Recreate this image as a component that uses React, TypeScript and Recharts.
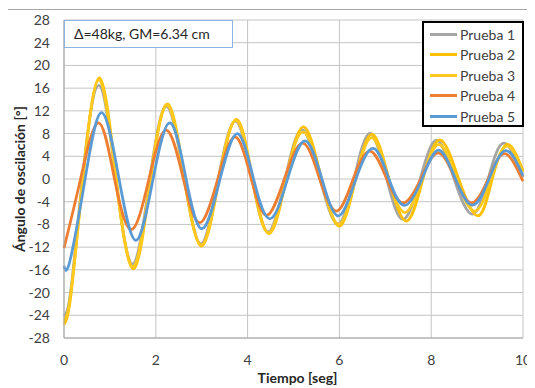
import { LineChart, Line, XAxis, YAxis, CartesianGrid } from 'recharts'

// [tiempo (s), ángulo (°)]: extremos y cruces por cero
const prueba1: [number, number][] = [
  [0, -24.2], [0.15, -19.5], [0.40, 0], [0.76, 16.5], [1.13, 0], [1.50, -15.0], [1.87, 0],
  [2.24, 12.8], [2.62, 0], [2.99, -11.4], [3.36, 0], [3.74, 10.2], [4.10, 0], [4.45, -9.3],
  [4.82, 0], [5.19, 8.7], [5.58, 0], [5.97, -7.9], [6.32, 0], [6.67, 8.1], [7.03, 0],
  [7.39, -7.1], [7.76, 0], [8.12, 6.85], [8.50, 0], [8.90, -6.2], [9.24, 0], [9.58, 6.3], [10, 0.3],
]
const prueba2: [number, number][] = [
  [0, -25.6], [0.15, -20.5], [0.41, 0], [0.77, 17.8], [1.14, 0], [1.52, -15.8], [1.89, 0],
  [2.26, 13.2], [2.63, 0], [3.0, -11.8], [3.38, 0], [3.76, 10.5], [4.11, 0], [4.47, -9.6],
  [4.84, 0], [5.22, 9.2], [5.61, 0], [6.0, -8.3], [6.35, 0], [6.71, 7.9], [7.08, 0],
  [7.46, -7.4], [7.82, 0], [8.19, 6.9], [8.60, 0], [9.02, -6.5], [9.33, 0], [9.65, 6.1], [10, 1.5],
]
const prueba3: [number, number][] = [
  [0, -25.0], [0.15, -20.0], [0.41, 0], [0.76, 17.4], [1.13, 0], [1.51, -15.4], [1.88, 0],
  [2.25, 13.0], [2.62, 0], [3.0, -11.6], [3.37, 0], [3.75, 10.3], [4.10, 0], [4.46, -9.5],
  [4.83, 0], [5.21, 8.3], [5.60, 0], [5.99, -8.0], [6.35, 0], [6.71, 7.3], [7.07, 0],
  [7.43, -5.9], [7.80, 0], [8.17, 6.1], [8.55, 0], [8.95, -5.65], [9.30, 0], [9.64, 5.8], [10, 1.2],
]
const prueba4: [number, number][] = [
  [0, -12.2], [0.36, 0], [0.75, 9.9], [1.10, 0], [1.47, -8.9], [1.85, 0], [2.23, 8.6],
  [2.60, 0], [2.96, -7.7], [3.35, 0], [3.73, 7.4], [4.08, 0], [4.42, -6.4], [4.80, 0],
  [5.20, 6.3], [5.57, 0], [5.94, -5.65], [6.30, 0], [6.67, 4.9], [7.03, 0], [7.39, -4.2],
  [7.77, 0], [8.15, 4.6], [8.52, 0], [8.88, -4.2], [9.24, 0], [9.60, 4.45], [10, -0.4],
]
const prueba5: [number, number][] = [
  [0, -15.3], [0.13, -14.4], [0.46, 0], [0.82, 11.7], [1.20, 0], [1.57, -10.8], [1.94, 0],
  [2.31, 9.9], [2.66, 0], [3.01, -8.75], [3.40, 0], [3.78, 8.0], [4.13, 0], [4.49, -7.0],
  [4.87, 0], [5.25, 6.7], [5.62, 0], [5.98, -6.5], [6.36, 0], [6.74, 5.4], [7.08, 0],
  [7.42, -4.65], [7.80, 0], [8.16, 5.1], [8.53, 0], [8.90, -4.6], [9.26, 0], [9.62, 5.0], [10, 0.6],
]

const xTicks = [0, 2, 4, 6, 8, 10]
const yTicks = [-28, -24, -20, -16, -12, -8, -4, 0, 4, 8, 12, 16, 20, 24, 28]

const series = [
  { name: 'Prueba 1', color: '#A5A5A5', points: prueba1 },
  { name: 'Prueba 2', color: '#FFC000', points: prueba2 },
  { name: 'Prueba 3', color: '#FFC81E', points: prueba3 },
  { name: 'Prueba 4', color: '#ED7D31', points: prueba4 },
  { name: 'Prueba 5', color: '#5B9BD5', points: prueba5 },
]

const font = 'Lato, "Open Sans", sans-serif'
const tickStyle = { fill: '#404040', fontSize: 14, fontFamily: font }

export default function App() {
  return (
    <div
      style={{
        position: 'relative',
        width: 527,
        height: 380,
        border: '1px solid #a6a6a6',
        marginLeft: -1,
        marginTop: 1,
        background: '#fff',
      }}
    >
      <LineChart width={527} height={380} margin={{ top: 10, right: 12, bottom: 0, left: 0 }}>
        <CartesianGrid stroke="#c4c4c4" />
        <XAxis
          type="number"
          dataKey="t"
          domain={[0, 10]}
          ticks={xTicks}
          height={52}
          tick={tickStyle}
          tickLine={false}
          tickMargin={11}
          axisLine={{ stroke: '#a6a6a6' }}
          label={{
            value: 'Tiempo [seg]',
            position: 'insideBottom',
            offset: 7,
            dx: 4,
            style: { fill: '#262626', fontSize: 14, fontWeight: 700, fontFamily: font },
          }}
        />
        <YAxis
          type="number"
          domain={[-28, 28]}
          ticks={yTicks}
          width={56}
          interval={0}
          tick={tickStyle}
          tickLine={false}
          tickMargin={8}
          axisLine={{ stroke: '#a6a6a6' }}
          label={{
            value: 'Ángulo de oscilación [°]',
            angle: -90,
            position: 'insideLeft',
            offset: 12,
            style: { textAnchor: 'middle', fill: '#262626', fontSize: 14, fontWeight: 700, fontFamily: font },
          }}
        />
        {series.map((s) => (
          <Line
            key={s.name}
            data={s.points.map(([t, v]) => ({ t, v }))}
            dataKey="v"
            name={s.name}
            type="natural"
            stroke={s.color}
            strokeWidth={2.75}
            dot={false}
            isAnimationActive={false}
          />
        ))}
      </LineChart>

      <div
        style={{
          position: 'absolute',
          left: 56,
          top: 10,
          width: 158,
          height: 26,
          border: '1px solid #8db4e2',
          background: '#fff',
          fontFamily: font,
          fontSize: 14,
          color: '#262626',
          lineHeight: '26px',
          paddingLeft: 9,
          boxSizing: 'content-box',
        }}
      >
        Δ=48kg, GM=6.34 cm
      </div>

      <div
        style={{
          position: 'absolute',
          left: 414,
          top: 11,
          width: 98,
          height: 101,
          border: '2px solid #000',
          background: '#fff',
          fontFamily: font,
          fontSize: 14,
          color: '#404040',
          paddingTop: 1,
          boxSizing: 'content-box',
        }}
      >
        {series.map((s) => (
          <div key={s.name} style={{ display: 'flex', alignItems: 'center', height: 20.5 }}>
            <span style={{ width: 27, height: 3, background: s.color, marginLeft: 6, marginRight: 3 }} />
            <span>{s.name}</span>
          </div>
        ))}
      </div>
    </div>
  )
}
